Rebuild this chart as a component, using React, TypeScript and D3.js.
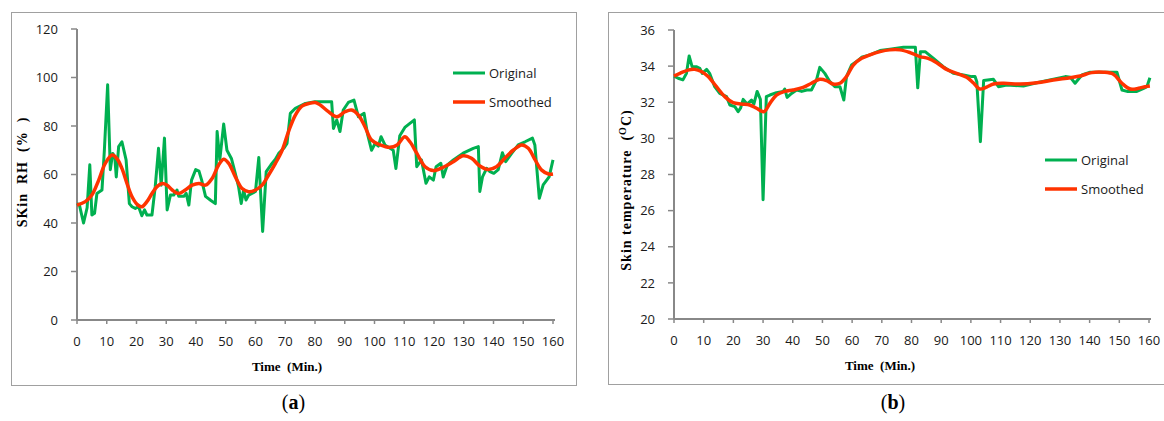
import React from 'react'
import * as d3 from 'd3'

// (a) skin RH
const rhOrigTime = [0, 0.8, 2.2, 3.4, 4.3, 5, 5.9, 6.7, 8.4, 9.2, 10.3, 11.2, 12, 12.7, 13.2, 14, 15.1, 16.5, 17.6, 18.5, 19.6, 20.7, 21.8, 22.7, 23.5, 25.2, 26.3, 27.4, 28.3, 29.4, 30.3, 31.4, 32.5, 33.6, 34.2, 35.9, 36.7, 37.6, 38.5, 39.9, 41, 41.9, 43.2, 44.9, 46.5, 47.1, 48, 49.3, 50.4, 51.9, 53.2, 54.3, 55.2, 56, 56.8, 57.7, 58.8, 60, 61.1, 62.4, 63.6, 65.2, 66.7, 67.8, 69.5, 70.6, 71.7, 73.4, 76.8, 80, 85.6, 86.2, 87.3, 88.4, 89.5, 91.2, 93.1, 94.6, 96.5, 97.6, 99, 100.2, 101.3, 102.2, 103.5, 105.2, 106.3, 107.2, 108.5, 110.2, 111.9, 113.4, 114.2, 115.8, 117.3, 118.4, 119.8, 120.7, 122.3, 123.1, 124.5, 126.5, 129.8, 133.2, 134.9, 135.4, 136.3, 137.7, 138.8, 140.1, 141.6, 143, 144.1, 146.1, 148.3, 150.6, 153.1, 153.9, 155.4, 156.7, 158.7, 160]
const rhOriginal = [48, 47.5, 40, 46.3, 64, 43.3, 44, 52.2, 53.6, 70, 97, 62, 68.7, 67.3, 59, 71.5, 73.5, 66, 48, 46.7, 46, 46.7, 43, 45.4, 43.3, 43.3, 55, 70.8, 55.6, 75, 45.4, 51.5, 51.5, 53.6, 51, 51, 52.2, 47.4, 57.7, 62, 61.4, 57.7, 51, 49.4, 48, 77.7, 66, 80.8, 70, 66.6, 60.5, 55, 48, 53.6, 49.5, 51.5, 52.2, 53, 67, 36.5, 61.2, 64, 66.3, 68.7, 70.8, 72.8, 85.2, 87.3, 89.3, 90, 90, 79, 82.5, 77.7, 86.6, 89.7, 90.7, 83.8, 85.2, 77, 70, 72.8, 71.7, 75.6, 72.2, 70.8, 70, 62.5, 76, 79.4, 81.1, 82.5, 63.2, 66, 56.4, 59, 57.7, 63.2, 64.6, 59, 64, 66, 68.8, 70.8, 71.5, 53, 59, 62.5, 61.2, 60.5, 62, 69, 65.3, 68.7, 72.2, 73.5, 75, 72.2, 50.2, 55.7, 59, 66]
const rhSmoothTime = [0, 2.8, 5, 7.3, 9.5, 11.8, 13.4, 15.1, 16.8, 18.5, 20.2, 21.8, 23.5, 25.2, 26.9, 28.6, 30.3, 32, 34.2, 36.4, 38.7, 41, 43.2, 45.4, 47.6, 49.3, 51, 53.2, 55.5, 57.7, 60, 62.2, 64.4, 66.7, 69, 71.1, 73.4, 75.6, 77.9, 80.1, 81.7, 84.5, 87.3, 90.1, 92.3, 94.6, 96.8, 99, 101.9, 105.2, 107.6, 110.2, 111.9, 114.2, 117, 119.8, 123.1, 126.5, 129.8, 132.6, 135.4, 138.2, 141, 143.8, 146.7, 149.5, 151.7, 154, 156.2, 158.5, 160]
const rhSmoothed = [47.4, 48.8, 51.5, 57.7, 64.6, 68, 66.6, 62.5, 56.3, 50.8, 47.7, 46.7, 48.8, 52.2, 55, 56.3, 55.6, 53.6, 52.2, 53.6, 55.6, 56.3, 55.6, 58.4, 63.9, 66.3, 64.6, 59.1, 54.2, 52.9, 53.6, 55.6, 59.8, 64.6, 70.1, 77.7, 84.5, 88.2, 89.3, 89.7, 88.7, 85.9, 83.8, 85.9, 86.6, 84.5, 79.7, 74.2, 72.2, 71.2, 72.2, 75.6, 73.5, 68.8, 63.2, 61.6, 63, 65.3, 67.7, 66.7, 63.5, 62.1, 63.2, 66.7, 70.1, 72.2, 70.8, 66, 61.8, 60.2, 60.2]

// (b) skin temperature
const tempOrigTime = [0, 1.4, 3, 4.2, 5.1, 6.1, 7.5, 8.7, 9.5, 11, 12, 13.7, 15.4, 17.7, 18.8, 20.5, 21.6, 22.4, 23.3, 24.6, 26.1, 26.9, 28, 29.1, 30, 31.1, 32.3, 34.5, 36.8, 37.3, 38.1, 39.6, 41.3, 43, 44.7, 46.3, 48, 49.1, 50.8, 52.5, 54.2, 55.9, 57.2, 58.1, 59.8, 61.5, 63.2, 66, 69.4, 72.7, 77.3, 81.3, 82.1, 83, 84.6, 87.4, 90.7, 94.1, 97.5, 100.3, 101.4, 102, 103.2, 104.3, 107.6, 109.3, 112.1, 117.7, 122.2, 127.8, 131.8, 133.5, 135.1, 137.4, 140.2, 144.7, 149.2, 150.9, 152.6, 155.9, 158.2, 159.3, 160.3]
const tempOriginal = [33.45, 33.33, 33.24, 33.6, 34.56, 33.97, 33.97, 33.88, 33.6, 33.82, 33.6, 32.86, 32.49, 32.31, 31.85, 31.76, 31.48, 31.67, 32.16, 31.9, 32.12, 31.9, 32.6, 32.16, 26.6, 32.31, 32.4, 32.53, 32.6, 32.73, 32.27, 32.49, 32.68, 32.6, 32.68, 32.68, 33.24, 33.93, 33.6, 33.14, 32.86, 32.86, 32.12, 33.42, 34.06, 34.25, 34.49, 34.62, 34.86, 34.93, 35.04, 35.04, 32.8, 34.8, 34.8, 34.43, 33.97, 33.6, 33.51, 33.42, 33.42, 33.14, 29.82, 33.2, 33.27, 32.86, 32.95, 32.9, 33.08, 33.27, 33.42, 33.38, 33.05, 33.51, 33.66, 33.66, 33.66, 32.68, 32.6, 32.6, 32.77, 32.86, 33.36]
const tempSmoothTime = [0, 2, 4.7, 7, 9.2, 11.5, 14.3, 17.1, 19.9, 22.7, 25.5, 27.8, 30.3, 32.3, 34.5, 37.3, 40.1, 43.5, 46.3, 49.1, 51.4, 53.6, 55.9, 58.1, 60.4, 63.2, 66, 69.4, 72.7, 76.1, 79.5, 82.8, 85.6, 88.5, 91.8, 95.2, 98.6, 100.8, 103.1, 105.3, 107.6, 111, 116.6, 122.2, 127.8, 133.5, 136.8, 140.7, 144.7, 148, 150.9, 153.7, 156.5, 158.7, 160.3]
const tempSmoothed = [33.45, 33.6, 33.78, 33.82, 33.7, 33.42, 32.86, 32.31, 31.98, 31.9, 31.85, 31.67, 31.48, 31.94, 32.4, 32.6, 32.68, 32.82, 33.05, 33.27, 33.2, 33.01, 33.05, 33.42, 34.06, 34.43, 34.62, 34.8, 34.9, 34.9, 34.75, 34.53, 34.43, 34.19, 33.82, 33.6, 33.38, 33.08, 32.73, 32.84, 33.01, 33.05, 33.01, 33.08, 33.23, 33.36, 33.45, 33.64, 33.66, 33.55, 33.05, 32.73, 32.77, 32.86, 32.9]

const xTicks = d3.range(0, 161, 10)
const rhTicks = [0, 20, 40, 60, 80, 100, 120]
const tempTicks = [20, 22, 24, 26, 28, 30, 32, 34, 36]
const seriesNames = ['Original', 'Smoothed']

const GREEN = '#00b050'
const RED = '#ff3300'
const AXIS = '#888'
const TICK_FONT = '"Open Sans", sans-serif'
const TITLE_FONT = '"Liberation Serif", serif'

type PanelProps = {
  box: [number, number, number, number]
  x0: number
  x1: number
  yTop: number
  yBottom: number
  yDomain: [number, number]
  yTicks: number[]
  orig: [number[], number[]]
  smooth: [number[], number[]]
  legendX: number
  legendY: number
  xTitleX: number
  yTitle: React.ReactNode
  yTitleX: number
  yTitleY: number
  label: string
}

function Panel(p: PanelProps) {
  const x = d3.scaleLinear().domain([0, 160]).range([p.x0, p.x1])
  const y = d3.scaleLinear().domain(p.yDomain).range([p.yBottom, p.yTop])

  const origPath = d3
    .line<number>()
    .x((_, i) => x(p.orig[0][i]))
    .y(d => y(d))(p.orig[1])
  const smoothPath = d3
    .line<number>()
    .x((_, i) => x(p.smooth[0][i]))
    .y(d => y(d))
    .curve(d3.curveCatmullRom.alpha(0.5))(p.smooth[1])

  const [bx, by, bw, bh] = p.box
  return (
    <g>
      <rect x={bx + 0.5} y={by + 0.5} width={bw} height={bh} fill="#fff" stroke="#a0a0a0" />
      {/* y axis */}
      <line x1={p.x0} x2={p.x0} y1={p.yTop} y2={p.yBottom} stroke={AXIS} strokeWidth={2} />
      {p.yTicks.map(t => (
        <g key={t}>
          <line x1={p.x0 - 6} x2={p.x0} y1={y(t)} y2={y(t)} stroke={AXIS} strokeWidth={1.5} />
          <text x={p.x0 - 19} y={y(t)} dy="0.36em" textAnchor="end" fontFamily={TICK_FONT} fontSize={13} fill="#1a1a1a">
            {t}
          </text>
        </g>
      ))}
      {/* x axis */}
      <line x1={p.x0} x2={p.x1 + 2} y1={p.yBottom} y2={p.yBottom} stroke={AXIS} strokeWidth={2} />
      {xTicks.map(t => (
        <g key={t}>
          <line x1={x(t)} x2={x(t)} y1={p.yBottom} y2={p.yBottom + 4} stroke={AXIS} strokeWidth={1.5} />
          <text x={x(t)} y={p.yBottom + 26} textAnchor="middle" fontFamily={TICK_FONT} fontSize={13} fill="#1a1a1a">
            {t}
          </text>
        </g>
      ))}
      <text x={p.xTitleX} y={p.yBottom + 51} textAnchor="middle" fontFamily={TITLE_FONT} fontWeight="bold" fontSize={13} style={{ whiteSpace: 'pre' }}>
        {'Time  (Min.)'}
      </text>
      <text
        transform={`translate(${p.yTitleX},${p.yTitleY}) rotate(-90)`}
        textAnchor="middle"
        fontFamily={TITLE_FONT}
        fontWeight="bold"
        fontSize={14}
        letterSpacing={1}
        style={{ whiteSpace: 'pre' }}
      >
        {p.yTitle}
      </text>
      {/* series */}
      <path d={origPath ?? ''} fill="none" stroke={GREEN} strokeWidth={3} strokeLinejoin="round" />
      <path d={smoothPath ?? ''} fill="none" stroke={RED} strokeWidth={3.5} strokeLinejoin="round" />
      {/* legend */}
      {seriesNames.map((name, i) => (
        <g key={name} transform={`translate(${p.legendX},${p.legendY + i * 29})`}>
          <line x1={0} x2={32} y1={0} y2={0} stroke={i === 0 ? GREEN : RED} strokeWidth={i === 0 ? 3 : 3.5} />
          <text x={36} y={0} dy="0.36em" fontFamily={TICK_FONT} fontSize={13} fill="#1a1a1a">
            {name}
          </text>
        </g>
      ))}
      <text x={bx + bw / 2} y={409} textAnchor="middle" fontFamily={TITLE_FONT} fontSize={20}>
        (<tspan fontWeight="bold">{p.label}</tspan>)
      </text>
    </g>
  )
}

export default function App() {
  return (
    <svg width={1164} height={421} style={{ position: 'absolute', left: 0, top: 0 }}>
      <Panel
        box={[11, 12, 565, 373]}
        x0={77}
        x1={553}
        yTop={29}
        yBottom={320}
        yDomain={[0, 120]}
        yTicks={rhTicks}
        orig={[rhOrigTime, rhOriginal]}
        smooth={[rhSmoothTime, rhSmoothed]}
        legendX={453}
        legendY={73}
        xTitleX={287}
        yTitle={'SKin  RH  (%  )'}
        yTitleX={27}
        yTitleY={172}
        label="a"
      />
      <Panel
        box={[608, 12, 570, 372]}
        x0={674}
        x1={1149}
        yTop={30}
        yBottom={319}
        yDomain={[20, 36]}
        yTicks={tempTicks}
        orig={[tempOrigTime, tempOriginal]}
        smooth={[tempSmoothTime, tempSmoothed]}
        legendX={1045}
        legendY={160}
        xTitleX={880}
        yTitle={
          <>
            {'Skin temperature  ('}
            <tspan dy={-5} fontSize={10}>O</tspan>
            <tspan dy={5}>C)</tspan>
          </>
        }
        yTitleX={631}
        yTitleY={190}
        label="b"
      />
    </svg>
  )
}
